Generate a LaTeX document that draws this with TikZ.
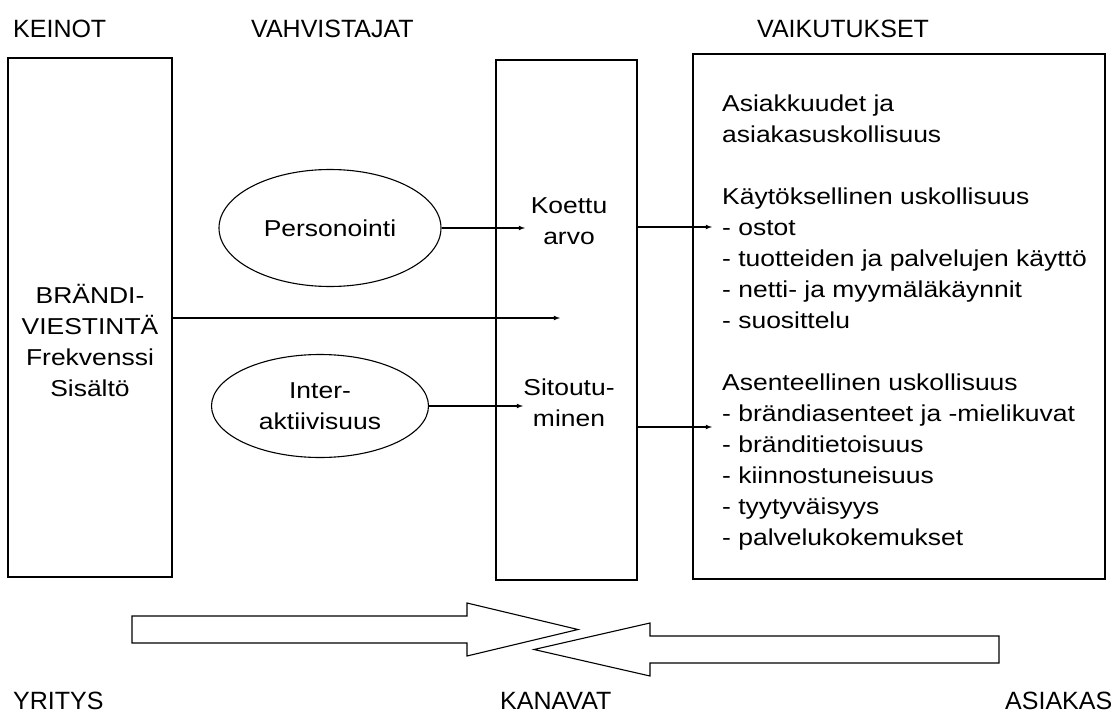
\documentclass[tikz,border=0pt]{standalone}
\usepackage{fontspec}
\setmainfont{Liberation Sans}
\newfontfamily\bodyfont{Liberation Sans}[FakeStretch=1.15]
\usepackage{tikz}
\usetikzlibrary{calc, arrows, shapes}
\tikzset{>=latex}
\tikzset{box/.style = {draw, line width=1.1pt, inner sep=0pt},
  oval/.style = {draw, ellipse, line width=1.1pt, inner sep=0pt},
  txt/.style = {font=\bodyfont\fontsize{23}{31}\selectfont, align=center},
  head/.style = {font=\fontsize{25}{30}\selectfont, inner sep=0pt, anchor=base west},
  link/.style = {->, line width=1.1pt}}

\begin{document}
\begin{tikzpicture}[x=1pt, y=-1pt]
\useasboundingbox (0,0) rectangle (1120,720);
% headings
\node[head] (keinoth) at (13,37) {KEINOT};
\node[head] (vahvh) at (251,37) {VAHVISTAJAT};
\node[head] (vaikh) at (757,37) {VAIKUTUKSET};
\node[head] (yritys) at (13,709) {YRITYS};
\node[head] (kanavat) at (500,709) {KANAVAT};
\node[head] (asiakas) at (1005,709) {ASIAKAS};

% boxes
\node[box, minimum width=164pt, minimum height=519pt] (keinot) at (90,317.5) {};
\node[box, minimum width=141pt, minimum height=520pt] (kanava) at (566.5,320) {};
\node[box, minimum width=412pt, minimum height=525pt] (vaikutus) at (899,316.5) {};
\node[txt] (brandi) at (90,340) {BRÄNDI-\\VIESTINTÄ\\Frekvenssi\\Sisältö};

\node[oval, minimum width=222pt, minimum height=117pt] (pers) at (330,228) {};
\node[txt] at (pers) {Personointi};
\node[oval, minimum width=217pt, minimum height=103pt] (inter) at (320,406) {};
\node[txt] at (inter) {Inter-\\aktiivisuus};

\node[txt] (koettu) at (569,221) {Koettu\\arvo};
\node[txt] (sitou) at (569,403) {Sitoutu-\\minen};

\node[txt, align=left, anchor=north west, inner sep=0pt] (lista) at (722,95)
  {Asiakkuudet ja\\asiakasuskollisuus\\[31pt]
   Käytöksellinen uskollisuus\\- ostot\\- tuotteiden ja palvelujen käyttö\\
   - netti- ja myymäläkäynnit\\- suosittelu\\[31pt]
   Asenteellinen uskollisuus\\- brändiasenteet ja -mielikuvat\\- bränditietoisuus\\
   - kiinnostuneisuus\\- tyytyväisyys\\- palvelukokemukset};

\coordinate (keskus) at (560,318);
\coordinate (ostot) at (712,227);
\coordinate (asenne) at (712,427);

% arrows
\draw[link] (pers) -- (pers -| 525,0);
\draw[link] (inter) -- (inter -| 523,0);
\draw[link] (keinot.east |- keskus) -- (keskus);
\draw[link] (kanava.east |- ostot) -- (ostot);
\draw[link] (kanava.east |- asenne) -- (asenne);

% big arrows
\draw[line width=1.1pt] (132,616) -- (467,616) -- (467,603) -- (578,629.5)
  -- (467,656) -- (467,643) -- (132,643) -- cycle;
\draw[line width=1.1pt] (999,636) -- (650,636) -- (650,623) -- (534,649.5)
  -- (650,676) -- (650,663) -- (999,663) -- cycle;
\end{tikzpicture}
\end{document}
